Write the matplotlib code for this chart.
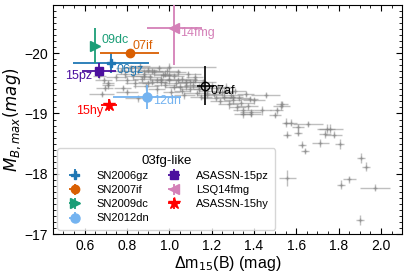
import numpy as np
import matplotlib
matplotlib.use("Agg")
import matplotlib.pyplot as plt
from matplotlib.ticker import MultipleLocator

plt.rcParams['font.family'] = ['Liberation Sans', 'DejaVu Sans']
plt.rcParams['mathtext.fontset'] = 'dejavusans'

# comparison sample (gray)
gx = [0.67, 0.69, 0.71, 0.68, 0.75, 0.77, 0.79, 0.80, 0.82, 0.83, 0.84, 0.85,
      0.86, 0.87, 0.88, 0.89, 0.90, 0.91, 0.92, 0.93, 0.94, 0.95, 0.96, 0.97,
      0.98, 0.99, 1.00, 1.00, 1.01, 1.02, 1.03, 1.04, 1.05, 1.06, 1.07, 1.08,
      1.09, 1.10, 1.11, 1.12, 1.13, 1.14, 1.15, 1.16, 1.18, 1.22, 1.20, 1.21,
      1.23, 1.24, 1.25, 1.26, 1.27, 1.28, 1.29, 1.30, 1.31, 1.32, 1.33, 1.34,
      1.36, 1.37, 1.38, 1.35, 0.80, 0.85, 0.78, 0.71, 0.695,
      1.348, 1.385, 1.507, 1.53, 1.50,
      1.40, 1.455, 1.533, 1.44, 1.385, 1.552, 1.573, 1.608, 1.656, 1.608,
      1.557, 1.745, 1.76, 1.735, 1.777, 1.627, 1.64, 1.714, 1.805, 1.905,
      1.93, 1.557, 1.81, 1.85, 1.973, 1.90,
      0.88, 0.92, 0.96, 1.00, 1.04, 1.08, 1.12, 0.94, 0.98, 1.06, 1.10, 1.14,
      1.18, 1.26, 1.30, 0.90, 1.02]
gy = [-19.63, -19.55, -19.47, -19.33, -19.60, -19.70, -19.66, -19.55, -19.75, -19.62, -19.50, -19.70,
      -19.78, -19.58, -19.66, -19.45, -19.72, -19.60, -19.52, -19.68, -19.40, -19.75, -19.58, -19.64,
      -19.48, -19.70, -19.77, -19.55, -19.36, -19.62, -19.50, -19.68, -19.44, -19.58, -19.30, -19.52,
      -19.65, -19.40, -19.48, -19.56, -19.34, -19.44, -19.27, -19.52, -19.38, -19.25, -19.46, -19.33,
      -19.42, -19.20, -19.35, -19.28, -19.44, -19.15, -19.30, -19.22, -19.38, -19.10, -19.26, -19.18,
      -19.32, -19.12, -19.24, -19.05, -19.35, -19.25, -19.42, -19.50, -19.42,
      -18.99, -18.99, -19.05, -19.13, -18.97,
      -19.22, -19.30, -19.15, -19.05, -19.02, -18.85, -18.85, -18.77, -18.83, -18.68,
      -18.65, -18.75, -18.75, -18.66, -18.65, -18.48, -18.37, -18.51, -18.49, -18.26,
      -18.12, -17.93, -17.82, -17.91, -17.77, -17.23,
      -19.62, -19.70, -19.52, -19.64, -19.56, -19.45, -19.60, -19.55, -19.66, -19.38, -19.52, -19.40,
      -19.30, -19.36, -19.28, -19.50, -19.44]
gxe = [0.03, 0.04, 0.03, 0.06, 0.05, 0.06, 0.04, 0.05, 0.07, 0.04, 0.05, 0.06,
       0.05, 0.04, 0.05, 0.06, 0.04, 0.05, 0.07, 0.05, 0.04, 0.06, 0.05, 0.04,
       0.05, 0.06, 0.22, 0.05, 0.04, 0.05, 0.06, 0.04, 0.05, 0.07, 0.05, 0.04,
       0.06, 0.05, 0.04, 0.05, 0.06, 0.04, 0.05, 0.06, 0.04, 0.07, 0.05, 0.04,
       0.06, 0.05, 0.04, 0.05, 0.04, 0.05, 0.06, 0.04, 0.05, 0.04, 0.05, 0.06,
       0.04, 0.05, 0.04, 0.05, 0.05, 0.06, 0.04, 0.03, 0.04,
       0.04, 0.05, 0.03, 0.04, 0.03,
       0.05, 0.07, 0.03, 0.04, 0.05, 0.02, 0.03, 0.03, 0.07, 0.02,
       0.02, 0.04, 0.06, 0.03, 0.04, 0.02, 0.02, 0.04, 0.02, 0.02,
       0.02, 0.04, 0.02, 0.03, 0.07, 0.02,
       0.04, 0.05, 0.03, 0.04, 0.06, 0.05, 0.04, 0.03, 0.05, 0.04, 0.06, 0.03,
       0.05, 0.04, 0.05, 0.03, 0.04]
gye = [0.06, 0.05, 0.06, 0.05, 0.06, 0.05, 0.07, 0.06, 0.05, 0.06, 0.08, 0.05,
       0.06, 0.05, 0.07, 0.06, 0.05, 0.06, 0.05, 0.06, 0.08, 0.05, 0.07, 0.05,
       0.06, 0.05, 0.06, 0.06, 0.07, 0.05, 0.06, 0.05, 0.07, 0.05, 0.06, 0.05,
       0.06, 0.05, 0.07, 0.06, 0.05, 0.06, 0.05, 0.06, 0.05, 0.05, 0.06, 0.05,
       0.07, 0.05, 0.06, 0.05, 0.06, 0.07, 0.05, 0.06, 0.05, 0.06, 0.05, 0.06,
       0.05, 0.06, 0.05, 0.06, 0.05, 0.06, 0.05, 0.06, 0.05,
       0.06, 0.05, 0.06, 0.07, 0.05,
       0.06, 0.05, 0.06, 0.07, 0.06, 0.07, 0.06, 0.06, 0.05, 0.06,
       0.06, 0.08, 0.07, 0.06, 0.06, 0.06, 0.05, 0.06, 0.08, 0.08,
       0.08, 0.14, 0.07, 0.06, 0.06, 0.08,
       0.06, 0.05, 0.07, 0.06, 0.05, 0.06, 0.07, 0.05, 0.06, 0.05, 0.06, 0.07,
       0.05, 0.06, 0.05, 0.06, 0.05]

# 03fg-like objects
names = ['SN2006gz', 'SN2007if', 'SN2009dc', 'SN2012dn',
         'ASASSN-15pz', 'LSQ14fmg', 'ASASSN-15hy']
short = ['06gz', '07if', '09dc', '12dn', '15pz', '14fmg', '15hy']
dm15 = [0.726, 0.812, 0.648, 0.895, 0.668, 1.024, 0.715]
dm15_err = [0.18, 0.14, 0.02, 0.16, 0.08, 0.13, 0.04]
mb = [-19.84, -20.01, -20.12, -19.28, -19.71, -20.42, -19.14]
mb_err = [0.17, 0.03, 0.29, 0.20, 0.12, 0.62, 0.10]

af_x, af_xe, af_y, af_ye = 1.17, 0.04, -19.46, 0.32

colors = ['#1f77b4', '#d95f02', '#1b9e77', '#74b3f0', '#4b0f9e', '#d480b8', '#ff0000']
markers = ['P', 'o', '>', 'o', 's', '<', '*']
msizes = [6, 6, 6.5, 6.5, 6, 6.5, 9]
offsets = [(4, -5), (2, 5), (5, 4), (4, -3), (-5, -4), (4, -4), (-4, -4)]

fig = plt.figure(figsize=(4.07, 2.76), dpi=100)
ax = fig.add_axes([0.130, 0.152, 0.858, 0.830])

ax.errorbar(gx, gy, xerr=gxe, yerr=gye, fmt='+', color='gray', ms=3,
            elinewidth=1, alpha=0.5, zorder=1)

for i in range(len(names)):
    ax.errorbar(dm15[i], mb[i], xerr=dm15_err[i], yerr=mb_err[i],
                fmt=markers[i], color=colors[i], ms=msizes[i], elinewidth=1.3,
                label=names[i], zorder=3)
    dx, dy = offsets[i]
    ax.annotate(short[i], (dm15[i], mb[i]), xytext=(dx, dy),
                textcoords='offset points', color=colors[i], fontsize=9,
                ha='left' if dx > 0 else 'right', va='center', zorder=4)

ax.errorbar(af_x, af_y, xerr=af_xe, yerr=af_ye, fmt='o', mfc='none',
            color='black', ms=6, elinewidth=1.2, zorder=3)
ax.annotate('07af', (af_x, af_y), xytext=(4, -4), textcoords='offset points',
            color='black', fontsize=9, ha='left', va='center')

ax.set_xlim(0.45, 2.1)
ax.set_ylim(-17.0, -20.8)
ax.xaxis.set_major_locator(MultipleLocator(0.2))
ax.xaxis.set_minor_locator(MultipleLocator(0.05))
ax.yaxis.set_major_locator(MultipleLocator(1))
ax.yaxis.set_minor_locator(MultipleLocator(0.1))
ax.tick_params(which='both', direction='in', top=True, right=True, labelsize=10)
ax.tick_params(which='major', length=4)
ax.tick_params(which='minor', length=2)

ax.set_xlabel('Δm$_{15}$(B) (mag)', fontsize=11.5, labelpad=1)
ax.set_ylabel('$M_{B,max}(mag)$', fontsize=12, labelpad=1)

leg = ax.legend(loc='lower left', ncol=2, title='03fg-like', fontsize=8,
                title_fontsize=9.5, frameon=True, borderaxespad=0.4,
                columnspacing=1.2, handletextpad=1.0, labelspacing=0.38,
                borderpad=0.55)
leg.get_frame().set_edgecolor('#cccccc')

fig.savefig('out.png', dpi=100)
